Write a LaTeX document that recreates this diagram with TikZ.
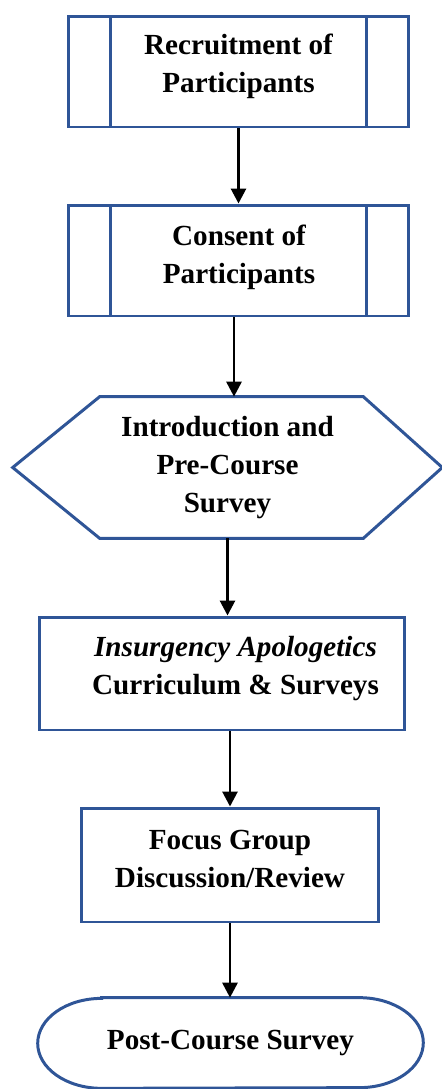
\documentclass[tikz,border=0pt]{standalone}
\usepackage{fontspec}
\setmainfont{Liberation Serif}
\usetikzlibrary{arrows.meta}
\definecolor{borde}{RGB}{47,85,151}

\begin{document}
\begin{tikzpicture}[x=0.02cm, y=-0.02cm,
        linea/.style={draw=borde, line width=1.7pt},
        caja/.style={linea, rectangle, inner sep=0pt},
        proceso/.style={caja, minimum width=6.82cm, minimum height=2.22cm,
            path picture={\draw[borde, line width=1.7pt]
                ([xshift=0.84cm]path picture bounding box.north west) -- ([xshift=0.84cm]path picture bounding box.south west)
                ([xshift=-0.84cm]path picture bounding box.north east) -- ([xshift=-0.84cm]path picture bounding box.south east);}},
        texto/.style={font=\bfseries\fontsize{16.6}{21.8}\selectfont, align=center, inner sep=0pt},
        flecha/.style={-{Triangle[width=8.5pt,length=8.5pt]}, line width=1.6pt}]
        \useasboundingbox (0,0) rectangle (442,1089);

        % Paso 1: Cajas de proceso predefinido (reclutamiento y consentimiento)
        \node[proceso] (rec) at (238.5,71.5) {};
        \node[texto] (recT) at (238.5,66) {Recruitment of\\Participants};
        \node[proceso] (con) at (238.5,260.5) {};
        \node[texto] (conT) at (239,257) {Consent of\\Participants};

        % Paso 2: Hexagono de preparacion
        \node[texto, minimum width=8.58cm, minimum height=2.82cm] (intro) at (227.5,467.5)
            {Introduction and\\Pre-Course\\Survey};
        \draw[linea] (intro.west) -- ([xshift=1.74cm]intro.north west)
            -- ([xshift=-1.58cm]intro.north east) -- (intro.east)
            -- ([xshift=-1.58cm]intro.south east) -- ([xshift=1.74cm]intro.south west) -- cycle;

        % Paso 3: Cajas simples
        \node[caja, minimum width=7.32cm, minimum height=2.26cm] (curr) at (222,673.5) {};
        \node[texto] (currT) at (235.5,668.5) {\textit{Insurgency Apologetics}\\Curriculum \& Surveys};
        \node[caja, minimum width=5.96cm, minimum height=2.28cm] (focus) at (230,865) {};
        \node[texto] (focusT) at (230,859) {Focus Group\\Discussion/Review};

        % Paso 4: Terminal con extremos elipticos
        \node[texto, minimum width=7.7cm, minimum height=1.8cm] (post) at (230.5,1043) {Post-Course Survey};
        \draw[linea] ([xshift=1.28cm]post.north west) -- ([xshift=-1.28cm]post.north east)
            arc[start angle=90, end angle=-90, x radius=1.28cm, y radius=0.9cm]
            -- ([xshift=1.28cm]post.south west)
            arc[start angle=270, end angle=90, x radius=1.28cm, y radius=0.9cm] -- cycle;

        % Paso 5: Flechas entre pasos
        \draw[flecha] (rec.south) -- (con.north);
        \draw[flecha] ([xshift=-0.09cm]con.south) -- ([xshift=-0.09cm]con.south |- intro.north);
        \draw[flecha] (intro.south) -- (intro.south |- curr.north);
        \draw[flecha] (curr.south -| focus.north) -- (focus.north);
        \draw[flecha] (focus.south) -- (focus.south |- post.north);
    \end{tikzpicture}
\end{document}
